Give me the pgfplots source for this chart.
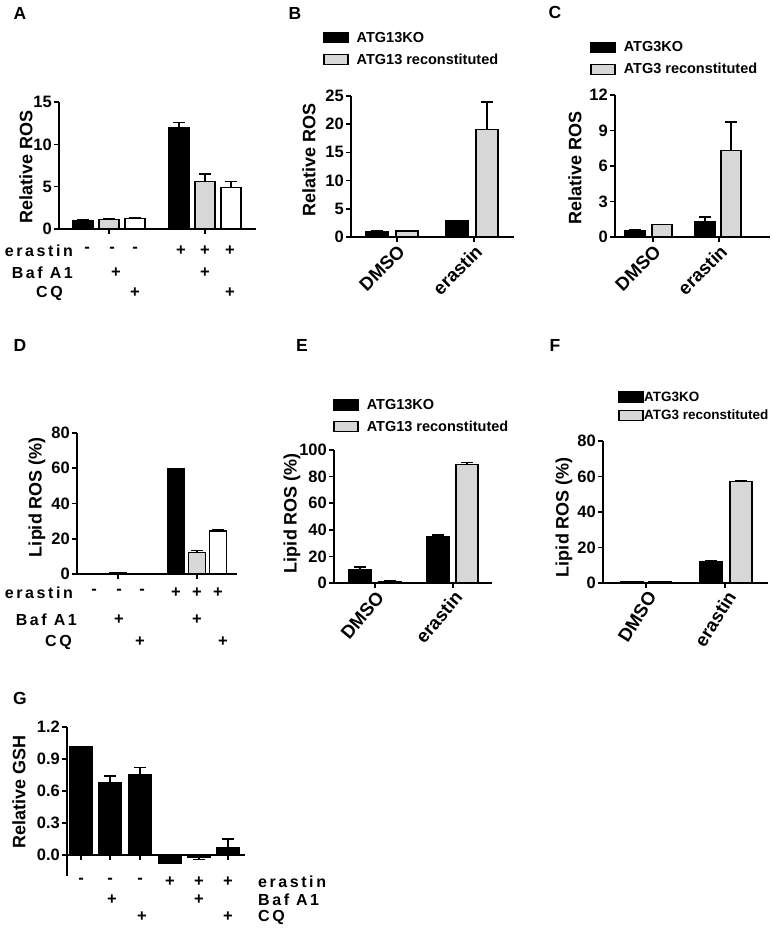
\documentclass[border=0pt]{standalone}
\usepackage{fontspec}
\setmainfont{Liberation Sans}
\newfontfamily\spc{Liberation Sans}[LetterSpace=16]
\usepackage{pgfplots}
\pgfplotsset{compat=1.18}
\definecolor{lg}{RGB}{215,215,215}
\newcommand{\tfont}{\fontsize{16.5}{16.5}\selectfont\bfseries}
\newcommand{\lfont}{\fontsize{18}{18}\selectfont\bfseries}
\newcommand{\xfont}{\fontsize{18.5}{18.5}\selectfont\bfseries}
\newcommand{\gfont}{\fontsize{14.5}{14.5}\selectfont\bfseries}
\newcommand{\rfont}{\spc\fontsize{16}{16}\selectfont\bfseries}
\newcommand{\sfont}{\fontsize{16.5}{16.5}\selectfont\bfseries}
\pgfplotsset{
 panel/.style={
  scale only axis, anchor=south west,
  axis x line*=bottom, axis y line*=left,
  axis line style={line width=1.6pt},
  every tick/.style={line width=1.6pt, black},
  major tick length=5pt,
  tick align=outside,
  ybar, bar shift=0pt,
  /pgf/number format/assume math mode=true,
  tick label style={font=\tfont},
  yticklabel style={inner sep=2pt},
  clip=false,
  xticklabels={},
  ymin=0,
 },
 bk/.style={fill=black, draw=black, line width=1.5pt},
 gy/.style={fill=lg, draw=black, line width=1.5pt},
 wh/.style={fill=white, draw=black, line width=1.5pt},
 errb/.style={error bars/.cd, y dir=plus, y explicit,
   error bar style={line width=1.5pt, black},
   error mark options={rotate=90, mark size=6pt, line width=1.5pt, black}},
 errm/.style={error bars/.cd, y dir=minus, y explicit,
   error bar style={line width=1.5pt, black},
   error mark options={rotate=90, mark size=6pt, line width=1.5pt, black}},
 leg/.style={
   legend image code/.code={\draw[##1, line width=1.5pt] (0pt,-5pt) rectangle (24pt,5pt);},
   legend style={draw=none, fill=none, inner sep=0pt, row sep=6pt,
     font=\gfont, cells={anchor=west}, nodes={inner sep=2pt},
     /tikz/every odd column/.append style={column sep=#1}},
 },
 grouped/.style n args={2}{
   xtick={#1}, xticklabels={DMSO,erastin},
   xticklabel style={rotate=#2, anchor=north east, font=\xfont, inner sep=1pt},
 },
}
\begin{document}
\begin{tikzpicture}
\useasboundingbox (0pt,0pt) rectangle (773pt,-932pt);

% ---------- A ----------
\begin{axis}[panel, at={(59pt,-229pt)}, width=197pt, height=127pt,
  xmin=-24, xmax=173, ymax=15, ytick={0,5,10,15}, xtick={26,122}, bar width=20pt]
\addplot[bk, errb] coordinates {(0,1.0) +- (0,0.05) (96,12.0) +- (0,0.6)};
\addplot[gy, errb] coordinates {(26,1.15) +- (0,0.05) (122,5.6) +- (0,0.9)};
\addplot[wh, errb] coordinates {(52,1.25) +- (0,0.05) (148,4.9) +- (0,0.7)};
\end{axis}

% ---------- B ----------
\begin{axis}[panel, leg=6pt, at={(351pt,-237pt)}, width=163pt, height=141pt,
  xmin=0, xmax=163, ymax=25, ytick={0,5,10,15,20,25}, grouped={46,123}{45}, bar width=22pt,
  legend style={at={(-0.172,1.47)}, anchor=north west}]
\addplot[bk, errb] coordinates {(26,1.0) +- (0,0.05) (106,2.8) +- (0,0.15)};
\addplot[gy, errb] coordinates {(56,1.1) +- (0,0.05) (136,19.1) +- (0,4.8)};
\legend{ATG13KO, ATG13 reconstituted}
\end{axis}

% ---------- C ----------
\begin{axis}[panel, leg=6pt, at={(615pt,-237pt)}, width=155pt, height=142pt,
  xmin=0, xmax=155, ymax=12, ytick={0,3,6,9,12}, grouped={38,104}{45}, bar width=20pt,
  legend style={at={(-0.161,1.39)}, anchor=north west}]
\addplot[bk, errb] coordinates {(20,0.53) +- (0,0.05) (90,1.32) +- (0,0.38)};
\addplot[gy, errb] coordinates {(47,1.04) +- (0,0.03) (116,7.3) +- (0,2.4)};
\legend{ATG3KO, ATG3 reconstituted}
\end{axis}

% ---------- D ----------
\begin{axis}[panel, at={(77pt,-574pt)}, width=160pt, height=141pt,
  xmin=0, xmax=160, ymax=80, ytick={0,20,40,60,80}, xtick={41,120}, bar width=17pt]
\addplot[bk, errb] coordinates {(17,0.3) +- (0,0.05) (99,59.8) +- (0,0.2)};
\addplot[gy, errb] coordinates {(41,0.5) +- (0,0.05) (120,12.3) +- (0,0.9)};
\addplot[wh, errb] coordinates {(65,0.3) +- (0,0.05) (141,24.5) +- (0,0.8)};
\end{axis}

% ---------- E ----------
\begin{axis}[panel, leg=6pt, at={(334pt,-583pt)}, width=158pt, height=133pt,
  xmin=0, xmax=158, ymax=100, ytick={0,20,40,60,80,100}, grouped={41,119}{50}, bar width=22pt,
  legend style={at={(-0.006,1.40)}, anchor=north west}]
\addplot[bk, errb] coordinates {(26,10.0) +- (0,2.0) (104,34.7) +- (0,1.5)};
\addplot[gy, errb] coordinates {(56,1.3) +- (0,0.3) (133,89.2) +- (0,1.5)};
\legend{ATG13KO, ATG13 reconstituted}
\end{axis}

% ---------- F ----------
\begin{axis}[panel, leg=0pt, at={(603pt,-583pt)}, width=165pt, height=142pt,
  xmin=0, xmax=165, ymax=80, ytick={0,20,40,60,80}, grouped={43,122}{58}, bar width=22pt,
  legend style={at={(0.09,1.352)}, anchor=north west, nodes={inner sep=0.5pt},
    font=\fontsize{13.5}{13.5}\selectfont\bfseries}]
\addplot[bk, errb] coordinates {(29,0.8) +- (0,0.1) (108,11.8) +- (0,1.0)};
\addplot[gy, errb] coordinates {(57,0.8) +- (0,0.1) (138,57.2) +- (0,0.6)};
\legend{ATG3KO, ATG3 reconstituted}
\end{axis}

% ---------- G ----------
\begin{axis}[panel, at={(67pt,-876pt)}, width=178pt, height=149pt,
  axis x line*=middle,
  xmin=0, xmax=178, ymin=-0.2, ymax=1.2, ytick={0,0.3,0.6,0.9,1.2},
  yticklabel style={/pgf/number format/.cd, fixed, fixed zerofill, precision=1},
  xtick={14,43,73,103,132,161}, bar width=23pt]
\addplot[bk, errb] coordinates {(14,1.01) +- (0,0.0) (43,0.68) +- (0,0.06) (73,0.75) +- (0,0.07) (161,0.07) +- (0,0.077)};
\addplot[bk, errm] coordinates {(103,-0.08) +- (0,0.0) (132,-0.02) +- (0,0.025)};
\end{axis}

% ---------- panel letters ----------
\begin{scope}[every node/.style={font=\fontsize{17.5}{17.5}\selectfont\bfseries}]
\node at (20pt,-13pt) {A};
\node at (295pt,-13pt) {B};
\node at (555pt,-12pt) {C};
\node at (20pt,-345pt) {D};
\node at (302pt,-345pt) {E};
\node at (555pt,-345pt) {F};
\node at (20pt,-698pt) {G};
\end{scope}

% ---------- y labels ----------
\begin{scope}[every node/.style={font=\lfont, rotate=90}]
\node at (26pt,-167pt) {Relative ROS};
\node at (309pt,-160pt) {Relative ROS};
\node at (575pt,-168pt) {Relative ROS};
\node at (37pt,-497pt) {Lipid ROS (\%)};
\node at (292pt,-513pt) {Lipid ROS (\%)};
\node at (564pt,-517pt) {Lipid ROS (\%)};
\node at (19pt,-792pt) {Relative GSH};
\end{scope}

% ---------- condition rows ----------
\begin{scope}[every node/.style={font=\sfont, inner sep=0pt}]
% A
\node[font=\rfont, anchor=east] at (73pt,-251pt) {erastin};
\node[font=\rfont, anchor=east] at (73pt,-273pt) {Baf A1};
\node[font=\rfont, anchor=east] at (63pt,-293pt) {CQ};
\foreach \x in {87,112,135} \node at (\x pt,-250pt) {-};
\foreach \x in {181,205,230} \node at (\x pt,-251pt) {+};
\foreach \x in {116,205} \node at (\x pt,-273pt) {+};
\foreach \x in {135,230} \node at (\x pt,-293pt) {+};
% D
\node[font=\rfont, anchor=east] at (73pt,-593pt) {erastin};
\node[font=\rfont, anchor=east] at (77pt,-620pt) {Baf A1};
\node[font=\rfont, anchor=east] at (72pt,-642pt) {CQ};
\foreach \x in {94,119,142} \node at (\x pt,-592pt) {-};
\foreach \x in {176,197,218} \node at (\x pt,-593pt) {+};
\foreach \x in {119,197} \node at (\x pt,-620pt) {+};
\foreach \x in {140,223} \node at (\x pt,-642pt) {+};
% G
\node[font=\rfont, anchor=west] at (258pt,-882pt) {erastin};
\node[font=\rfont, anchor=west] at (258pt,-900pt) {Baf A1};
\node[font=\rfont, anchor=west] at (258pt,-917pt) {CQ};
\foreach \x in {81,110,140} \node at (\x pt,-881pt) {-};
\foreach \x in {170,199,228} \node at (\x pt,-882pt) {+};
\foreach \x in {112,199} \node at (\x pt,-900pt) {+};
\foreach \x in {142,228} \node at (\x pt,-917pt) {+};
\end{scope}
\end{tikzpicture}
\end{document}
